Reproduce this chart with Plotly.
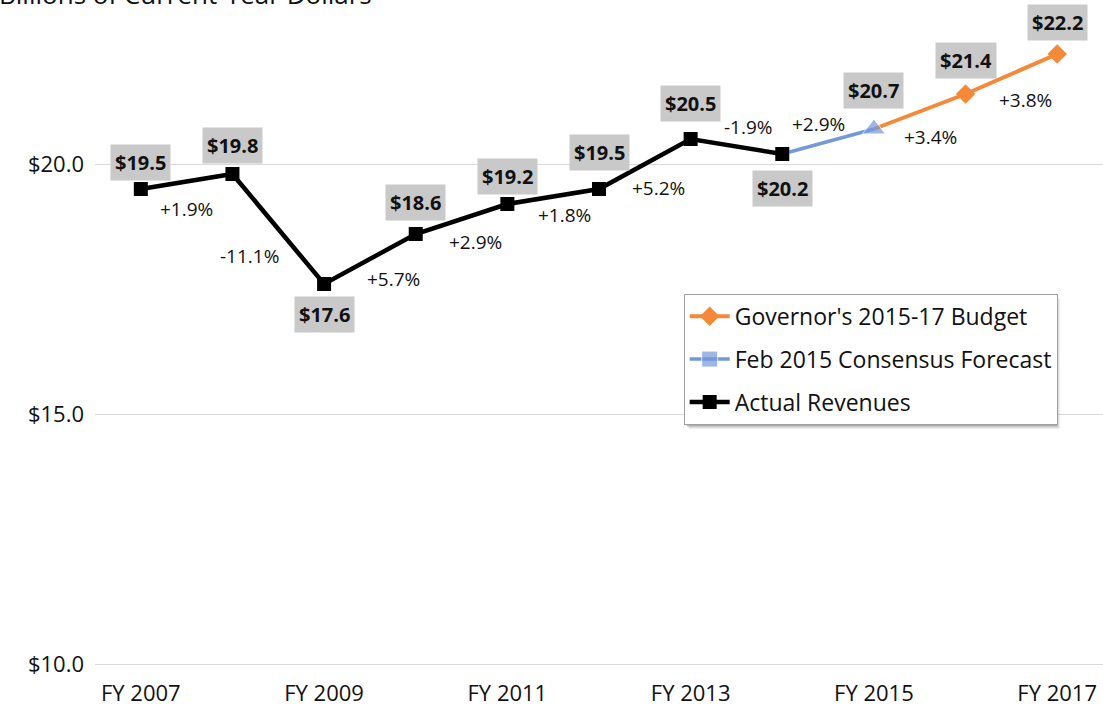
import plotly.graph_objects as go

# Fiscal years on the category axis
years = ["FY 2007", "FY 2008", "FY 2009", "FY 2010", "FY 2011", "FY 2012",
         "FY 2013", "FY 2014", "FY 2015", "FY 2016", "FY 2017"]

# Revenues, billions of current-year dollars
actual_years = years[:8]
actual = [19.5, 19.8, 17.6, 18.6, 19.2, 19.5, 20.5, 20.2]
forecast_years = ["FY 2014", "FY 2015"]
forecast = [20.2, 20.7]
budget_years = ["FY 2015", "FY 2016", "FY 2017"]
budget = [20.7, 21.4, 22.2]

# Year-over-year change between consecutive fiscal years
pct_change = ["+1.9%", "-11.1%", "+5.7%", "+2.9%", "+1.8%", "+5.2%",
              "-1.9%", "+2.9%", "+3.4%", "+3.8%"]

y_ticks = [10, 15, 20]
y_tick_text = [f"${v:.1f}" for v in y_ticks]

ORANGE = "#F5893A"
BLUE = "#7399DB"
BLACK = "#000000"
FONT = "Open Sans"

fig = go.Figure()

# Budget projection (points listed last-to-first so the legend picks the diamond;
# the FY 2015 diamond is hidden beneath the forecast triangle)
fig.add_trace(go.Scatter(
    x=budget_years[::-1], y=budget[::-1], name="Governor's 2015-17 Budget",
    mode="lines+markers", line=dict(color=ORANGE, width=4),
    marker=dict(symbol="diamond", size=15,
                color=[ORANGE, ORANGE, "rgba(0,0,0,0)"]),
    legendrank=1, legendgroup="a", cliponaxis=False,
))

# Consensus forecast
fig.add_trace(go.Scatter(
    x=forecast_years, y=forecast, name="Feb 2015 Consensus Forecast",
    mode="lines+markers", line=dict(color=BLUE, width=3.5),
    marker=dict(symbol=["square", "triangle-up"], size=[13, 20], color=BLUE),
    legendrank=2, legendgroup="b", cliponaxis=False,
))

# Actual revenues
fig.add_trace(go.Scatter(
    x=actual_years, y=actual, name="Actual Revenues",
    mode="lines+markers", line=dict(color=BLACK, width=4.5),
    marker=dict(symbol="square", size=14, color=BLACK),
    legendrank=3, legendgroup="c", cliponaxis=False,
))

# Dollar value labels on grey boxes
all_values = actual + forecast[1:] + budget[1:]
label_shift = [27, 29, -30, 32, 28, 37, 36, -34, 39, 34, 32]
annotations = []
for yr, v, s in zip(years, all_values, label_shift):
    annotations.append(dict(
        x=yr, y=v, xref="x", yref="y", text=f"<b>${v:.1f}</b>",
        showarrow=False, yshift=s, bgcolor="#C9C9C9", borderpad=4,
        font=dict(family=FONT, size=20, color="#111111"),
    ))

# Percent-change labels beside each segment
pct_offsets = [(0, -27), (-29, -27), (24, -20), (14, -23), (11, -18),
               (14, -24), (12, 20), (-10, 18), (11, -25), (14, -26)]
for i, (txt, (dx, dy)) in enumerate(zip(pct_change, pct_offsets)):
    mid = (all_values[i] + all_values[i + 1]) / 2
    annotations.append(dict(
        x=i + 0.5, y=mid, xref="x", yref="y", text=txt, showarrow=False,
        xshift=dx, yshift=dy, font=dict(family=FONT, size=19, color="#111111"),
    ))

# Axis caption along the top edge
annotations.append(dict(
    x=0, y=1, xref="paper", yref="paper", xanchor="left", yanchor="middle",
    xshift=-98, yshift=6, text="Billions of Current-Year Dollars",
    showarrow=False, font=dict(family=FONT, size=26, color="#111111"),
))

# Soft shadow behind the legend box
shapes = []
for off, op in [(5, 0.15), (3.5, 0.22), (2, 0.3)]:
    shapes.append(dict(
        type="rect", xref="paper", yref="paper",
        xsizemode="pixel", ysizemode="pixel", xanchor=0.584, yanchor=0.559,
        x0=off, x1=371 + off, y0=-off, y1=-130 - off,
        fillcolor=f"rgba(90,90,90,{op})", line=dict(width=0), layer="above",
    ))

fig.update_layout(
    width=1103, height=715,
    margin=dict(l=95, r=0, t=0, b=49),
    paper_bgcolor="white", plot_bgcolor="white",
    font=dict(family=FONT, color="#111111"),
    showlegend=True,
    legend=dict(
        x=0.584, y=0.559, xanchor="left", yanchor="top",
        bgcolor="white", bordercolor="#A0A0A0", borderwidth=1,
        font=dict(family=FONT, size=23, color="#111111"),
        traceorder="grouped", tracegroupgap=10, itemwidth=40,
    ),
    xaxis=dict(
        categoryorder="array", categoryarray=years, type="category",
        range=[-0.5, len(years) - 0.5],
        tickvals=years[::2], showgrid=False, zeroline=False, showline=False,
        ticks="", ticklabelstandoff=12,
        tickfont=dict(family=FONT, size=22, color="#111111"),
    ),
    yaxis=dict(
        range=[9.96, 23.28], tickvals=y_ticks, ticktext=y_tick_text,
        showgrid=True, gridcolor="#D9D9D9", gridwidth=1.3, zeroline=False,
        showline=False, ticks="", ticklabelstandoff=10,
        tickfont=dict(family=FONT, size=22, color="#111111"),
    ),
    annotations=annotations,
    shapes=shapes,
)

fig.write_html("out.html")
